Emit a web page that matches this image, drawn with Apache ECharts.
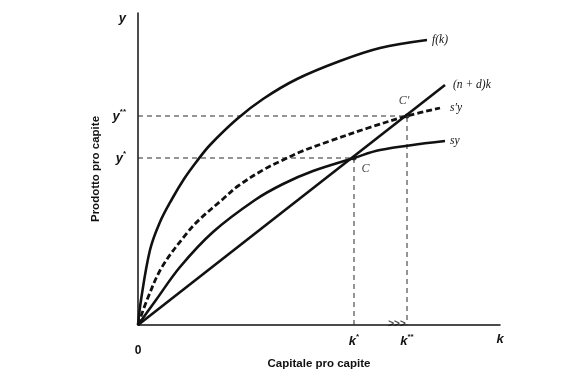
<!DOCTYPE html>
<html>
<head>
<meta charset="utf-8">
<script src="https://cdn.jsdelivr.net/npm/echarts@6/dist/echarts.min.js"></script>
<style>html,body{margin:0;padding:0;background:#fff;}#c{width:563px;height:383px;}</style>
</head>
<body>
<div id="c"></div>
<script>
// ---- data (units) ----
const xMax = 362, yMax = 312;
const kStar = 216, kStar2 = 269;
const yStar = 167, yStar2 = 209;
const fK = [[0,0],[3,25],[12,75],[22,103],[34,126],[46,146],[59,164],[72,180],[99,206],[125,226],[159,246],[202,264],[242,277],[289,285]];
const sPrimeY = [[0,0],[9,25],[24,58],[49,92],[62,106],[85,126],[100,139],[125,155],[145,165],[162,173],[192,184],[230,197],[269,209],[302,217]];
const sY = [[0,0],[18,25],[42,58],[75,93],[117,125],[145,141],[175,154],[216,167],[242,175],[307,184]];
const depLine = [[0,0],[307,240]];
const seriesNames = ['f(k)', 's′y', 'sy', '(n + d)k'];
const pointNames = ['C', 'C′'];
const xTitle = 'Capitale pro capite';
const yTitle = 'Prodotto pro capite';

const chart = echarts.init(document.getElementById('c'), null, {renderer: 'canvas'});
const ink = '#111';
const serif = {fontFamily: 'Liberation Serif', fontStyle: 'italic', fontSize: 11.5, color: ink};
const rich = {
  i: {fontFamily: 'Liberation Sans', fontWeight: 'bold', fontStyle: 'italic', fontSize: 13, color: ink},
  s: {fontFamily: 'Liberation Sans', fontWeight: 'bold', fontSize: 8, color: ink, padding: [0, 0, 8, 0]},
  z: {fontFamily: 'Liberation Sans', fontWeight: 'bold', fontSize: 12, color: ink, padding: [12, 0, 0, 0]}
};
function guide(pts) {
  return {type: 'line', data: pts, symbol: 'none', silent: true,
    lineStyle: {color: '#2a2a2a', width: 1, type: [5, 4]}, z: 1};
}
function curve(name, pts, extra) {
  return Object.assign({type: 'line', name: name, data: pts, symbol: 'none', smooth: 0.35,
    lineStyle: {color: ink, width: 2.6}, z: 3,
    endLabel: Object.assign({show: true, formatter: name}, serif)}, extra || {});
}
const s1 = curve(seriesNames[0], fK); s1.endLabel.distance = 5;
const s2 = curve(seriesNames[1], sPrimeY, {lineStyle: {color: ink, width: 2.8, type: [6, 3]}}); s2.endLabel.distance = 10;
const s3 = curve(seriesNames[2], sY); s3.endLabel.distance = 5;
const s4 = curve(seriesNames[3], depLine, {smooth: false}); s4.endLabel.distance = 8;

chart.setOption({
  animation: false,
  backgroundColor: '#fff',
  grid: {left: 138, right: 63, top: 13, bottom: 58, containLabel: false},
  xAxis: {
    type: 'value', min: 0, max: xMax,
    name: xTitle, nameLocation: 'middle', nameGap: 33, nameMoveOverlap: false,
    nameTextStyle: {fontFamily: 'Liberation Sans', fontWeight: 'bold', fontSize: 11.5, color: ink},
    axisLine: {show: true, lineStyle: {color: ink, width: 1.5}},
    axisTick: {show: false}, splitLine: {show: false},
    axisLabel: {
      customValues: [0, kStar, kStar2, xMax], margin: 8, rich: rich,
      formatter: function (v) {
        if (v === 0) return '{z|0}';
        if (v === kStar) return '{i|k}{s|*}';
        if (v === kStar2) return '{i|k}{s|**}';
        return '{i|k}';
      }
    }
  },
  yAxis: {
    type: 'value', min: 0, max: yMax,
    name: yTitle, nameLocation: 'middle', nameGap: 36, nameMoveOverlap: false,
    nameTextStyle: {fontFamily: 'Liberation Sans', fontWeight: 'bold', fontSize: 11.5, color: ink},
    axisLine: {show: true, lineStyle: {color: ink, width: 1.5}},
    axisTick: {show: false}, splitLine: {show: false},
    axisLabel: {
      customValues: [yStar, yStar2, yMax - 5], margin: 12, rich: rich,
      formatter: function (v) {
        if (v === yStar) return '{i|y}{s|*}';
        if (v === yStar2) return '{i|y}{s|**}';
        return '{i|y}';
      }
    }
  },
  series: [
    guide([[0, yStar2], [kStar2, yStar2], [kStar2, 0]]),
    guide([[0, yStar], [kStar, yStar], [kStar, 0]]),
    s1, s2, s3, s4,
    {type: 'scatter', z: 4, symbolSize: 5, itemStyle: {color: ink},
      data: [
        {value: [kStar, yStar], name: pointNames[0], label: {show: true, formatter: pointNames[0], position: 'right', offset: [0, 11], ...serif, fontSize: 12}},
        {value: [kStar2, yStar2], name: pointNames[1], label: {show: true, formatter: pointNames[1], position: 'top', offset: [-3, -2], ...serif, fontSize: 12}}
      ]},
    {type: 'scatter', z: 4, symbolSize: 0, data: [{value: [kStar2 - 10, 0], label: {show: true, formatter: '>>>', position: 'inside', offset: [0, -1], fontSize: 10, fontWeight: 'bold', color: ink, fontFamily: 'Liberation Sans'}}]}
  ]
});
</script>
</body>
</html>
